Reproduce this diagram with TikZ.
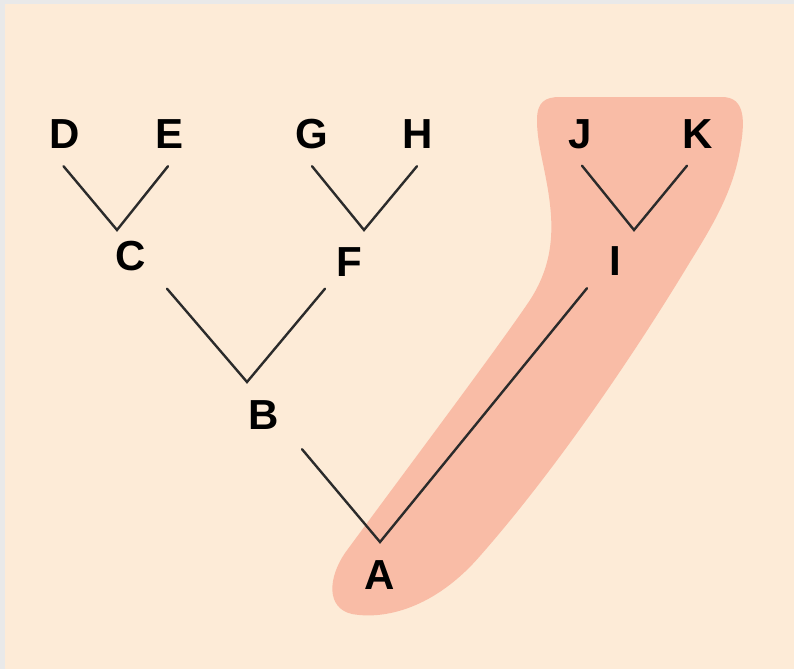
\documentclass[tikz,border=0pt]{standalone}
\usepackage{fontspec}
\setmainfont{Liberation Sans}
\definecolor{bgpeach}{HTML}{FDEBD7}
\definecolor{hilite}{HTML}{F9BCA6}
\definecolor{framegrey}{HTML}{E9E9E9}
\definecolor{linecol}{HTML}{2B2B2B}
\tikzset{
  lbl/.style={font=\fontsize{42}{42}\selectfont\bfseries, text=black, text height=30pt, text depth=0pt, inner xsep=0pt, inner ysep=17.5pt},
  br/.style={line width=2.4pt, draw=linecol, line cap=round, line join=miter}
}
\begin{document}
\begin{tikzpicture}[x=1pt,y=-1pt]
\useasboundingbox (0,0) rectangle (794,669);
\fill[framegrey] (0,0) rectangle (794,669);
\fill[bgpeach] (5,4) rectangle (794,669);
% highlighted clade
\fill[hilite] (560,97) -- (722,97)
  .. controls (746,97) and (745,122) .. (740,150)
  .. controls (733,190) and (715,222) .. (690,262)
  .. controls (640,345) and (560,465) .. (480,556)
  .. controls (435,608) and (385,620) .. (352,614)
  .. controls (326,608) and (328,578) .. (345,553)
  .. controls (400,478) and (500,345) .. (530,300)
  .. controls (556,260) and (553,222) .. (548,190)
  .. controls (543,160) and (537,142) .. (537,120)
  .. controls (537,102) and (545,97) .. cycle;
% labels
\node[lbl] (D) at (64.5,133.5) {D};
\node[lbl] (E) at (170,133.5) {E};
\node[lbl] (G) at (312,133.5) {G};
\node[lbl] (H) at (418,133.5) {H};
\node[lbl] (J) at (580,133) {J};
\node[lbl] (K) at (698,133) {K};
\node[lbl] (C) at (131,255) {C};
\node[lbl] (F) at (349,261) {F};
\node[lbl] (I) at (615,260) {I};
\node[lbl] (B) at (264,414) {B};
\node[lbl] (A) at (380,574) {A};
% junctions
\coordinate (vC) at (117,230);
\coordinate (vF) at (364,230);
\coordinate (vI) at (634,230);
\coordinate (vB) at (247,382);
\coordinate (vA) at (380,542);
% branches
\draw[br] ([xshift=-1pt]D.south) -- (vC) -- ([xshift=-2pt]E.south);
\draw[br] (G.south) -- (vF) -- ([xshift=-1pt]H.south);
\draw[br] ([xshift=2pt]J.south) -- (vI) -- ([xshift=-11pt]K.south);
\draw[br] ([xshift=36pt,yshift=-1pt]C.south) -- (vB) -- ([xshift=-24pt,yshift=5pt]F.south);
\draw[br] ([xshift=38pt,yshift=-2.5pt]B.south) -- (vA) -- ([xshift=-28pt,yshift=4.5pt]I.south);
\end{tikzpicture}
\end{document}
